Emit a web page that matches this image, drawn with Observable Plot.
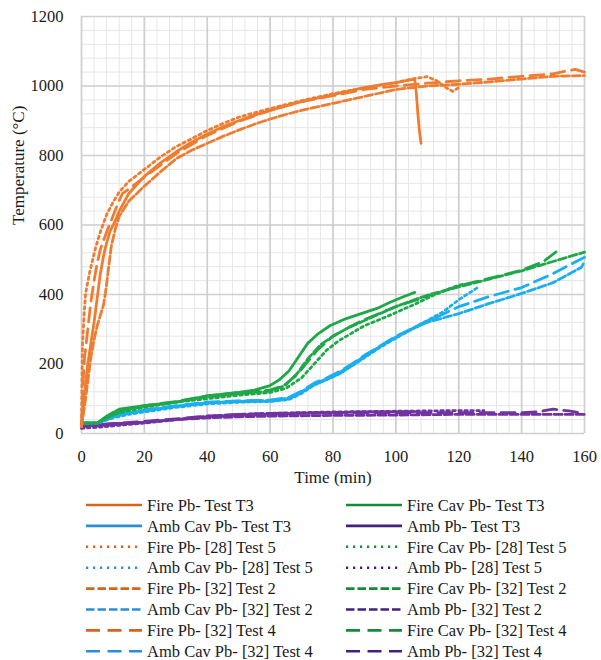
<!DOCTYPE html>
<html>
<head>
<meta charset="utf-8">
<script src="https://cdn.jsdelivr.net/npm/d3@7"></script>
<script src="https://cdn.jsdelivr.net/npm/@observablehq/plot@0.6"></script>
<style>
  html, body { margin: 0; padding: 0; background: #fff; }
  #chart svg { display: block; }
  #legend svg { display: block; }
</style>
</head>
<body>
<div id="chart"></div>
<div id="legend"></div>
<script>
// ---- data (time in min, temperature in °C) ----
const xTicks = [0, 20, 40, 60, 80, 100, 120, 140, 160];
const yTicks = [0, 200, 400, 600, 800, 1000, 1200];

const firePbT3 = [[0,20],[1,120],[2,200],[3,260],[4,320],[4.5,354],[5,390],[6,460],[7,510],[7.6,535],[9,580],[10.8,613],[12,640],[15,690],[20,740],[25,778],[30,810],[35,838],[40,862],[45,883],[50,900],[55,916],[60,930],[65,943],[70,955],[75,965],[80,975],[85,985],[90,995],[95,1003],[100,1010],[106,1020],[106.5,980],[107,920],[107.5,870],[108,835]];
const firePb28T5 = [[0,30],[0.3,250],[0.8,340],[1.3,403],[2.5,460],[3.5,498],[4.5,535],[6,580],[8,630],[10,665],[12,695],[15,725],[20,760],[25,795],[30,825],[35,848],[40,872],[45,892],[50,910],[55,923],[60,935],[70,958],[80,978],[90,995],[100,1010],[105,1020],[110,1027],[113,1015],[116,995],[118,985],[120,995]];
const firePb32T2 = [[0,20],[1,80],[2,150],[3,220],[4,270],[5,310],[6,340],[7,370],[7.6,403],[8.4,460],[9.5,540],[10.8,590],[12,625],[15,668],[20,712],[25,752],[30,790],[35,815],[40,835],[45,855],[50,873],[55,890],[60,905],[65,918],[70,930],[75,940],[80,950],[90,970],[100,990],[110,1000],[120,1005],[130,1012],[140,1020],[150,1028],[160,1030]];
const firePb32T4 = [[0,20],[0.5,150],[1,220],[2,300],[3,380],[4,440],[5,490],[6,530],[8,580],[10,625],[11.5,660],[13,690],[16,710],[20,738],[30,805],[40,858],[50,898],[60,930],[70,955],[80,972],[90,990],[100,1000],[110,1008],[120,1015],[130,1020],[140,1028],[150,1035],[157,1048],[160,1040]];

const fireCavT3 = [[0,30],[5,30],[8,50],[12,70],[20,80],[30,90],[40,108],[50,118],[55,125],[60,138],[63,155],[66,180],[69,220],[72,260],[75,285],[79,310],[84,330],[88,342],[94,360],[98,377],[102,392],[106,406]];
const fireCav28T5 = [[0,30],[5,30],[8,45],[12,60],[20,75],[30,90],[40,100],[50,110],[60,118],[65,130],[70,160],[74,200],[78,240],[82,268],[90,310],[98,340],[106,372],[112,398],[118,420],[122,432]];
const fireCav32T2 = [[0,30],[5,30],[10,55],[15,70],[20,78],[30,90],[40,105],[50,115],[60,122],[64,135],[68,165],[72,215],[76,255],[80,280],[85,305],[90,325],[95,345],[100,365],[105,382],[110,398],[120,422],[130,445],[140,468],[150,495],[160,522]];
const fireCav32T4 = [[0,30],[5,30],[10,60],[15,72],[20,80],[30,92],[40,108],[50,118],[60,125],[65,140],[70,185],[75,240],[80,280],[85,305],[90,328],[100,365],[110,395],[120,425],[130,447],[140,470],[147,495],[152,530]];

const ambCavT3 = [[0,30],[5,30],[8,40],[12,55],[20,65],[30,78],[40,88],[50,92],[60,93],[66,100],[70,118],[73,135],[77,152],[82,172],[86,195],[90,220],[94,245],[98,268],[104,296],[108,315],[112,332]];
const ambCav28T5 = [[0,30],[5,30],[10,45],[15,55],[20,62],[30,75],[40,85],[50,90],[60,92],[66,98],[70,115],[74,140],[78,155],[82,172],[86,195],[90,218],[95,248],[100,275],[105,300],[110,325],[115,350],[120,385],[126,420]];
const ambCav32T2 = [[0,30],[5,30],[10,48],[15,58],[20,66],[30,78],[40,88],[50,93],[60,95],[66,102],[70,120],[74,142],[78,157],[82,175],[86,198],[90,222],[95,250],[100,275],[105,300],[110,320],[120,345],[130,375],[140,403],[150,434],[159,478],[160,495]];
const ambCav32T4 = [[0,30],[5,30],[10,50],[15,60],[20,68],[30,80],[40,90],[50,94],[60,96],[66,104],[70,122],[74,145],[78,160],[82,178],[86,200],[90,225],[95,252],[100,280],[110,322],[120,365],[130,395],[140,420],[150,460],[158,498],[160,507]];

const ambPbT3 = [[0,25],[5,25],[10,28],[20,32],[30,40],[40,48],[50,53],[60,56],[70,58],[80,60],[90,62],[100,62],[106,63]];
const ambPb28T5 = [[0,15],[5,18],[10,22],[20,30],[30,40],[40,50],[50,55],[60,58],[80,62],[100,64],[120,66],[128,66]];
const ambPb32T2 = [[0,20],[10,25],[20,32],[30,40],[40,45],[50,48],[60,50],[80,52],[100,53],[120,55],[140,55],[160,55]];
const ambPb32T4 = [[0,22],[10,28],[20,35],[30,42],[40,50],[50,55],[60,58],[80,60],[100,60],[120,60],[140,60],[145,62],[150,70],[155,65],[160,58]];

// ---- styles ----
const plotColor = {firePb: "#EE7D31", fireCav: "#1FA84A", ambCav: "#1AAFEF", ambPb: "#7232A2"};
const legendColor = {firePb: "#D7631D", fireCav: "#168A36", ambCav: "#2A8FD6", ambPb: "#43207E"};
const dash = {T3: null, T5: "2.5,3.5", T2: "8,3", T4: "14,7"};

const series = [
  {name: "Fire Pb- Test T3", kind: "firePb", test: "T3", data: firePbT3},
  {name: "Fire Cav Pb- Test T3", kind: "fireCav", test: "T3", data: fireCavT3},
  {name: "Amb Cav Pb- Test T3", kind: "ambCav", test: "T3", data: ambCavT3},
  {name: "Amb Pb- Test T3", kind: "ambPb", test: "T3", data: ambPbT3},
  {name: "Fire Pb- [28] Test 5", kind: "firePb", test: "T5", data: firePb28T5},
  {name: "Fire Cav Pb- [28] Test 5", kind: "fireCav", test: "T5", data: fireCav28T5},
  {name: "Amb Cav Pb- [28] Test 5", kind: "ambCav", test: "T5", data: ambCav28T5},
  {name: "Amb Pb- [28] Test 5", kind: "ambPb", test: "T5", data: ambPb28T5},
  {name: "Fire Pb- [32] Test 2", kind: "firePb", test: "T2", data: firePb32T2},
  {name: "Fire Cav Pb- [32] Test 2", kind: "fireCav", test: "T2", data: fireCav32T2},
  {name: "Amb Cav Pb- [32] Test 2", kind: "ambCav", test: "T2", data: ambCav32T2},
  {name: "Amb Pb- [32] Test 2", kind: "ambPb", test: "T2", data: ambPb32T2},
  {name: "Fire Pb- [32] Test 4", kind: "firePb", test: "T4", data: firePb32T4},
  {name: "Fire Cav Pb- [32] Test 4", kind: "fireCav", test: "T4", data: fireCav32T4},
  {name: "Amb Cav Pb- [32] Test 4", kind: "ambCav", test: "T4", data: ambCav32T4},
  {name: "Amb Pb- [32] Test 4", kind: "ambPb", test: "T4", data: ambPb32T4}
];

const minorX = d3.range(0, 161, 4);
const minorY = d3.range(0, 1201, 40);

const drawOrder = ["ambPb", "ambCav", "fireCav", "firePb"];
const lineMarks = [];
for (const k of drawOrder) {
  for (const s of series.filter(d => d.kind === k)) {
    const rows = s.data.map(([t, T]) => ({t, T}));
    lineMarks.push(Plot.line(rows, {
      x: "t", y: "T",
      stroke: plotColor[s.kind],
      strokeWidth: 2.8,
      strokeDasharray: dash[s.test] || undefined,
      strokeLinejoin: "round"
    }));
  }
}

const FONT = "Liberation Serif, DejaVu Serif, serif";

const chart = Plot.plot({
  width: 601,
  height: 494,
  marginLeft: 81,
  marginRight: 17,
  marginTop: 16,
  marginBottom: 61,
  style: {fontFamily: FONT, fontSize: "16.5px", color: "#1a1a1a", background: "#fff"},
  x: {domain: [0, 160]},
  y: {domain: [0, 1200]},
  marks: [
    Plot.ruleX(minorX, {stroke: "#e6e6e6", strokeWidth: 1}),
    Plot.ruleY(minorY, {stroke: "#e6e6e6", strokeWidth: 1}),
    Plot.ruleX(xTicks, {stroke: "#cfcfcf", strokeWidth: 1.7}),
    Plot.ruleY(yTicks, {stroke: "#cfcfcf", strokeWidth: 1.7}),
    Plot.axisX({ticks: xTicks, tickSize: 0, tickPadding: 17, label: null, tickFormat: d => String(d)}),
    Plot.axisY({ticks: yTicks, tickSize: 0, tickPadding: 18, label: null, tickFormat: d => String(d)}),
    ...lineMarks,
    Plot.text(["Time (min)"], {frameAnchor: "bottom", dy: 49, fontSize: 17, fill: "#1a1a1a"}),
    Plot.text(["Temperature (°C)"], {frameAnchor: "left", dx: -63, rotate: -90, fontSize: 17, fill: "#1a1a1a"})
  ]
});
document.getElementById("chart").appendChild(chart);

// ---- legend ----
const order = ["T3","T5","T2","T4"];
const leftCol = series.filter(s => s.kind === "firePb" || s.kind === "ambCav")
  .sort((a, b) => order.indexOf(a.test) - order.indexOf(b.test) || (a.kind === "firePb" ? -1 : 1));
const rightCol = series.filter(s => s.kind === "fireCav" || s.kind === "ambPb")
  .sort((a, b) => order.indexOf(a.test) - order.indexOf(b.test) || (a.kind === "fireCav" ? -1 : 1));

const lg = d3.select("#legend").append("svg").attr("width", 601).attr("height", 166);
const cols = [{items: leftCol, x0: 86}, {items: rightCol, x0: 346}];
for (const c of cols) {
  c.items.forEach((s, i) => {
    const y = 11 + i * 20.9;
    const l = lg.append("line")
      .attr("x1", c.x0).attr("x2", c.x0 + 56).attr("y1", y).attr("y2", y)
      .attr("stroke", legendColor[s.kind]).attr("stroke-width", 2.6);
    if (dash[s.test]) l.attr("stroke-dasharray", s.test === "T5" ? "2.2,4.8" : s.test === "T2" ? "8.5,3" : "14,7.5");
    lg.append("text")
      .attr("x", c.x0 + 61).attr("y", y).attr("dy", "0.35em")
      .attr("font-family", FONT).attr("font-size", 16.5).attr("fill", "#1a1a1a")
      .text(s.name);
  });
}
</script>
</body>
</html>
